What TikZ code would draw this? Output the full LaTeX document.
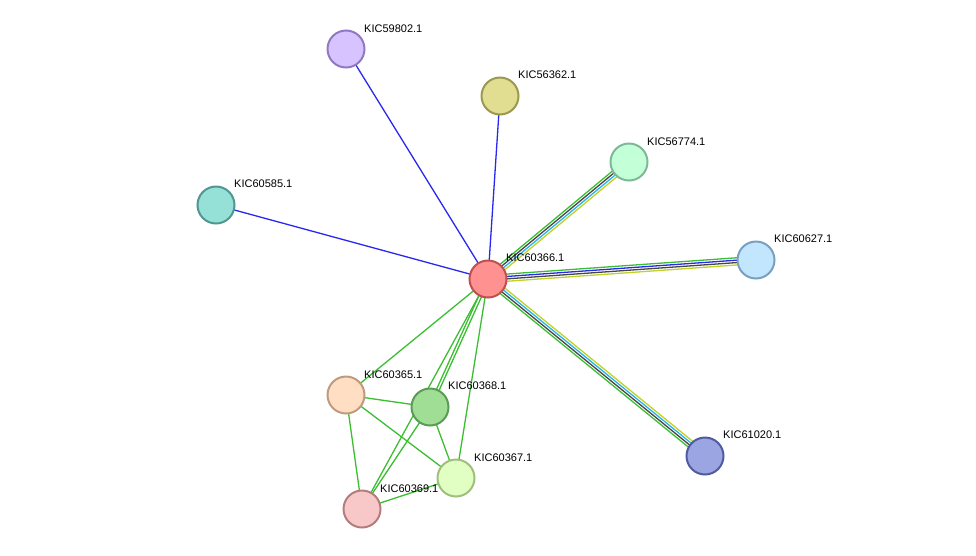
\documentclass[tikz,border=0pt]{standalone}
\usepackage{fontspec}
\setmainfont{Liberation Sans}
\usetikzlibrary{calc}
\begin{document}
\begin{tikzpicture}[x=1pt,y=-1pt,
  prot/.style={circle,minimum size=37pt,inner sep=0pt,line width=2pt},
  lab/.style={anchor=base west,font=\fontsize{11}{12}\selectfont,inner sep=0pt},
  e/.style={line width=1.3pt}]
\useasboundingbox (0,0) rectangle (976,555);
\definecolor{cg}{RGB}{60,190,50}
\definecolor{cb}{RGB}{40,40,240}
\definecolor{ck}{RGB}{70,70,70}
\definecolor{cc}{RGB}{40,180,230}
\definecolor{cy}{RGB}{190,210,40}
\newcommand{\ml}[4]{\draw[e,#4] ($(#1)!#3!90:(#2)$) -- ($(#2)!#3!-90:(#1)$);}
\coordinate (c) at (488,279);
\coordinate (p59802) at (346,49);
\coordinate (p56362) at (500,96);
\coordinate (p56774) at (629,162);
\coordinate (p60585) at (216,205);
\coordinate (p60627) at (756,260);
\coordinate (p60365) at (346,395);
\coordinate (p60368) at (430,407);
\coordinate (p60367) at (456,478);
\coordinate (p60369) at (362,509);
\coordinate (p61020) at (705,456);
% edges
\draw[e,cb] (c) -- (p59802);
\draw[e,cb] (c) -- (p56362);
\draw[e,cb] (c) -- (p60585);
\ml{c}{p56774}{3.6pt}{cg}\ml{c}{p56774}{1.2pt}{ck}\ml{c}{p56774}{-1.2pt}{cc}\ml{c}{p56774}{-3.6pt}{cy}
\ml{c}{p60627}{3.6pt}{cg}\ml{c}{p60627}{1.2pt}{cb}\ml{c}{p60627}{-1.2pt}{ck}\ml{c}{p60627}{-3.6pt}{cy}
\ml{c}{p61020}{-3.6pt}{cg}\ml{c}{p61020}{-1.2pt}{ck}\ml{c}{p61020}{1.2pt}{cc}\ml{c}{p61020}{3.6pt}{cy}
\draw[e,cg] (c) -- (p60365);
\ml{c}{p60368}{1.4pt}{cg}\ml{c}{p60368}{-1.4pt}{cg}
\draw[e,cg] (c) -- (p60367);
\draw[e,cg] (c) -- (p60369);
\draw[e,cg] (p60365) -- (p60368);
\draw[e,cg] (p60365) -- (p60367);
\draw[e,cg] (p60365) -- (p60369);
\draw[e,cg] (p60368) -- (p60367);
\draw[e,cg] (p60368) -- (p60369);
\draw[e,cg] (p60369) -- (p60367);
% nodes
\node[prot,fill={rgb,255:red,255;green,145;blue,145},draw={rgb,255:red,190;green,80;blue,80}] (n60366) at (c) {};
\node[prot,fill={rgb,255:red,215;green,195;blue,255},draw={rgb,255:red,145;green,120;blue,195}] (n59802) at (p59802) {};
\node[prot,fill={rgb,255:red,225;green,222;blue,145},draw={rgb,255:red,155;green,152;blue,80}] (n56362) at (p56362) {};
\node[prot,fill={rgb,255:red,195;green,255;blue,215},draw={rgb,255:red,125;green,185;blue,150}] (n56774) at (p56774) {};
\node[prot,fill={rgb,255:red,150;green,225;blue,215},draw={rgb,255:red,80;green,150;blue,145}] (n60585) at (p60585) {};
\node[prot,fill={rgb,255:red,195;green,230;blue,255},draw={rgb,255:red,120;green,160;blue,190}] (n60627) at (p60627) {};
\node[prot,fill={rgb,255:red,255;green,222;blue,195},draw={rgb,255:red,190;green,155;blue,125}] (n60365) at (p60365) {};
\node[prot,fill={rgb,255:red,160;green,222;blue,150},draw={rgb,255:red,90;green,155;blue,85}] (n60368) at (p60368) {};
\node[prot,fill={rgb,255:red,225;green,255;blue,195},draw={rgb,255:red,160;green,190;blue,125}] (n60367) at (p60367) {};
\node[prot,fill={rgb,255:red,248;green,200;blue,200},draw={rgb,255:red,180;green,125;blue,125}] (n60369) at (p60369) {};
\node[prot,fill={rgb,255:red,155;green,165;blue,225},draw={rgb,255:red,80;green,90;blue,160}] (n61020) at (p61020) {};
% labels
\node[lab] (l60366) at (506,261) {KIC60366.1};
\node[lab] (l59802) at (364,32) {KIC59802.1};
\node[lab] (l56362) at (518,78) {KIC56362.1};
\node[lab] (l56774) at (647,145) {KIC56774.1};
\node[lab] (l60585) at (234,187) {KIC60585.1};
\node[lab] (l60627) at (774,242) {KIC60627.1};
\node[lab] (l60365) at (364,378) {KIC60365.1};
\node[lab] (l60368) at (448,389) {KIC60368.1};
\node[lab] (l60367) at (474,461) {KIC60367.1};
\node[lab] (l60369) at (380,492) {KIC60369.1};
\node[lab] (l61020) at (723,438) {KIC61020.1};
\end{tikzpicture}
\end{document}
